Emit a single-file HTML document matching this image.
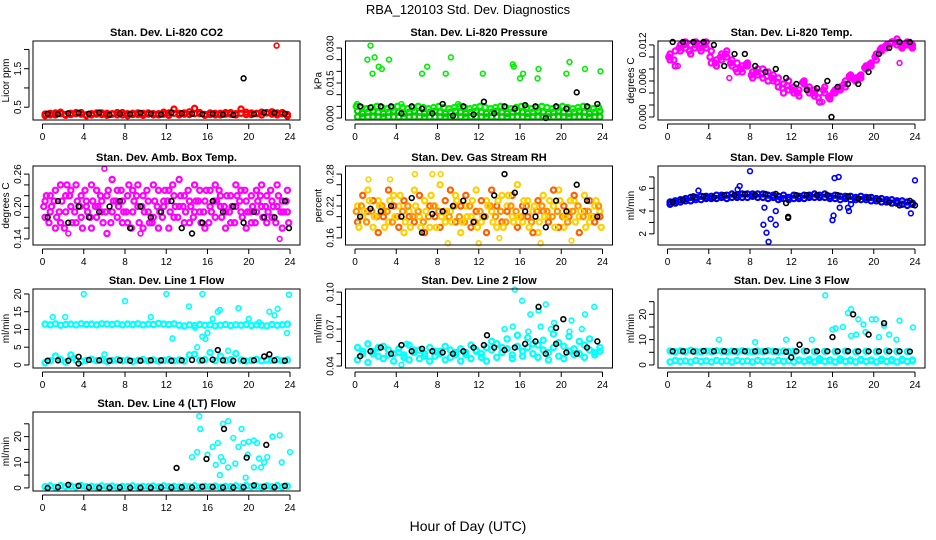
<!DOCTYPE html>
<html><head><meta charset="utf-8"><title>RBA_120103 Std. Dev. Diagnostics</title>
<style>
html,body{margin:0;padding:0;background:#fff;}
svg{display:block;font-family:"Liberation Sans",Arial,sans-serif;}
</style></head>
<body>
<svg id="chart" width="936" height="540" viewBox="0 0 936 540">
<rect x="0" y="0" width="936" height="540" fill="#fff"/>
<text x="468" y="14" text-anchor="middle" font-size="13">RBA_120103  Std. Dev. Diagnostics</text>
<text x="468" y="531" text-anchor="middle" font-size="14">Hour of Day (UTC)</text>
</svg>
<script>
// ---- data ----
const xTicks = [0,4,8,12,16,20,24];
const co2A = [0.32,0.30,0.35,0.33,0.31,0.34,0.36,0.32,0.30,0.33,0.35,0.31,0.34,0.32,0.30,0.36,0.33,0.31,0.35,0.34,0.32,0.30,0.33,0.37,0.35,0.45,0.34,0.32,0.38,0.47,0.33,0.31,0.35,0.30,0.34,0.32,0.36,0.33,0.45,0.31,0.35,0.34,0.37,0.36,0.38,0.35,0.33,0.27];
const co2B = [0.28,0.34,0.30,0.37,0.29,0.31,0.33,0.36,0.28,0.30,0.32,0.35,0.29,0.33,0.36,0.30,0.28,0.34,0.31,0.29,0.35,0.33,0.30,0.32,0.29,0.34,0.30,0.35,0.31,0.33,0.36,0.29,0.31,0.34,0.30,0.36,0.32,0.30,0.34,0.37,0.31,0.33,0.30,0.35,0.32,0.30,0.36,0.31];
const co2Out = [[22.7,2.1]];
const co2Black = [0.33,0.32,0.34,0.35,0.33,0.36,0.30,0.33,0.32,0.35,0.33,0.31,0.36,0.34,0.33,0.32,0.33,0.31,0.30,1.25,0.32,0.36,0.35,0.33];
const presA = [0.0005,0.0005,0.0005,0.0005,0.0005,0.0005,0.0005,0.0005,0.0005,0.0005,0.0005,0.0005,0.0005,0.0005,0.0005,0.0005,0.0005,0.0005,0.0005,0.0005,0.0005,0.0005,0.0005,0.0005,0.0005,0.0005,0.0005,0.0005,0.0005,0.0005,0.0005,0.0005,0.0005,0.0005,0.0005,0.0005,0.0005,0.0005,0.0005,0.0005,0.0005,0.0005,0.0005,0.0005,0.0005,0.0005,0.0005,0.0005];
const presB = [0.003,0.002,0.0025,0.003,0.0025,0.002,0.0025,0.003,0.0025,0.002,0.0025,0.003,0.0025,0.002,0.0025,0.003,0.0025,0.002,0.0025,0.003,0.0025,0.002,0.0025,0.003,0.0025,0.002,0.0025,0.003,0.0025,0.002,0.0025,0.003,0.0025,0.002,0.0025,0.003,0.0025,0.002,0.0025,0.003,0.0025,0.002,0.0025,0.003,0.0025,0.002,0.0025,0.003];
const presC = [0.005,0.0045,0.004,0.0045,0.005,0.0045,0.004,0.0045,0.005,0.0045,0.004,0.0045,0.005,0.0045,0.004,0.0045,0.005,0.0045,0.004,0.0045,0.005,0.0045,0.004,0.0045,0.005,0.0045,0.004,0.0045,0.005,0.0045,0.004,0.0045,0.005,0.0045,0.004,0.0045,0.005,0.0045,0.004,0.0045,0.005,0.0045,0.004,0.0045,0.005,0.0045,0.004,0.0045];
const presOut = [[1.2,0.025],[1.5,0.031],[1.9,0.026],[1.7,0.019],[2.3,0.022],[2.6,0.021],[3.3,0.025],[6.5,0.019],[7.0,0.022],[8.8,0.019],[9.3,0.026],[12.4,0.019],[16,0.017],[15.3,0.023],[15.4,0.022],[16.3,0.019],[17.7,0.017],[17.8,0.021],[20.5,0.019],[20.8,0.024],[22.3,0.021],[23.8,0.020],[0.2,0.006],[4.5,0.006],[10,0.006]];
const presBlack = [0.005,0.0045,0.005,0.005,0.002,0.005,0.004,0.002,0.006,0.001,0.005,0.0015,0.007,0.002,0.005,0.004,0.0055,0.005,0.0,0.005,0.004,0.011,0.005,0.006];
const tempA = [0.0105,0.011,0.012,0.0125,0.012,0.0125,0.012,0.0125,0.011,0.0095,0.0105,0.011,0.0095,0.009,0.0085,0.009,0.0075,0.008,0.008,0.0075,0.007,0.0065,0.0055,0.006,0.005,0.0045,0.006,0.005,0.0045,0.004,0.005,0.0035,0.0045,0.005,0.006,0.007,0.0065,0.007,0.0085,0.009,0.0105,0.0115,0.012,0.0125,0.013,0.012,0.0125,0.012];
const tempB = [0.0095,0.0085,0.011,0.0115,0.0105,0.012,0.011,0.0115,0.009,0.0085,0.0095,0.010,0.0085,0.0075,0.0075,0.0085,0.0065,0.0070,0.0065,0.006,0.006,0.005,0.004,0.0045,0.004,0.0035,0.0055,0.004,0.0035,0.0025,0.004,0.003,0.004,0.0045,0.005,0.0065,0.006,0.0065,0.008,0.0085,0.0095,0.011,0.0115,0.0125,0.012,0.0115,0.012,0.0115];
const tempC = [0.010,0.0095,0.0115,0.012,0.011,0.0115,0.0115,0.012,0.010,0.009,0.010,0.0105,0.009,0.008,0.008,0.0088,0.007,0.0075,0.0072,0.0068,0.0065,0.0058,0.0048,0.0052,0.0045,0.004,0.0058,0.0045,0.004,0.0032,0.0045,0.0033,0.0042,0.0048,0.0055,0.0068,0.0062,0.0068,0.0082,0.0088,0.010,0.0112,0.0118,0.0122,0.0125,0.0118,0.0122,0.0118];
const tempOut = [[6,0.0065],[15,0.0025],[22.5,0.009],[1,0.0085]];
const tempBlack = [0.0125,0.0125,0.0125,0.0125,0.012,0.0085,0.0105,0.0105,0.0085,0.0075,0.008,0.0065,0.0055,0.0045,0.0048,0.006,0.005,0.0055,0.0055,0.0075,0.0105,0.0115,0.0125,0.0125];
const tempBlackOut = [[15.9,0.0]];
const boxA = [0.21,0.19,0.23,0.17,0.22,0.20,0.24,0.18,0.21,0.16,0.23,0.19,0.22,0.25,0.18,0.21,0.17,0.23,0.20,0.22,0.19,0.24,0.16,0.21,0.23,0.18,0.20,0.22,0.17,0.24,0.19,0.21,0.23,0.18,0.20,0.16,0.22,0.24,0.19,0.21,0.17,0.23,0.20,0.22,0.18,0.24,0.21,0.19];
const boxB = [0.18,0.22,0.16,0.24,0.19,0.23,0.17,0.22,0.20,0.24,0.18,0.21,0.15,0.19,0.23,0.17,0.22,0.19,0.24,0.16,0.21,0.18,0.23,0.20,0.16,0.22,0.25,0.17,0.21,0.19,0.23,0.16,0.20,0.24,0.22,0.19,0.17,0.20,0.23,0.16,0.22,0.19,0.24,0.17,0.21,0.20,0.16,0.23];
const boxC = [0.20,0.17,0.21,0.19,0.16,0.22,0.19,0.20,0.23,0.18,0.20,0.22,0.19,0.17,0.21,0.23,0.19,0.16,0.22,0.20,0.23,0.17,0.20,0.18,0.21,0.24,0.18,0.20,0.23,0.18,0.21,0.19,0.17,0.21,0.23,0.20,0.19,0.17,0.21,0.23,0.19,0.17,0.22,0.20,0.23,0.17,0.19,0.21];
const boxD = [0.22,0.20,0.18,0.21,0.24,0.17,0.21,0.16,0.19,0.21,0.20,0.17,0.23,0.21,0.20,0.19,0.24,0.21,0.17,0.19,0.17,0.21,0.19,0.23,0.19,0.20,0.22,0.19,0.20,0.21,0.17,0.23,0.19,0.21,0.18,0.22,0.20,0.22,0.18,0.19,0.20,0.21,0.18,0.19,0.20,0.22,0.19,0.17];
const boxOut = [[6,0.27],[23,0.14],[9.5,0.15],[2.5,0.15]];
const boxBlack = [0.18,0.21,0.17,0.20,0.18,0.19,0.20,0.21,0.16,0.20,0.18,0.19,0.21,0.16,0.15,0.17,0.21,0.19,0.20,0.17,0.19,0.18,0.18,0.21];
const boxBlackOut = [[23.9,0.16]];
const rhA = [0.22,0.20,0.25,0.18,0.23,0.21,0.19,0.24,0.22,0.17,0.21,0.25,0.20,0.23,0.18,0.22,0.26,0.19,0.21,0.24,0.17,0.22,0.20,0.25,0.19,0.23,0.21,0.18,0.24,0.22,0.20,0.26,0.19,0.23,0.21,0.17,0.24,0.20,0.22,0.25,0.18,0.21,0.23,0.20,0.24,0.19,0.22,0.21];
const rhB = [0.19,0.24,0.21,0.23,0.17,0.20,0.25,0.22,0.18,0.23,0.20,0.19,0.24,0.17,0.22,0.20,0.18,0.23,0.25,0.19,0.22,0.24,0.18,0.21,0.23,0.17,0.25,0.22,0.19,0.21,0.24,0.18,0.22,0.20,0.17,0.23,0.21,0.19,0.25,0.18,0.22,0.20,0.24,0.17,0.21,0.23,0.19,0.20];
const rhC = [0.21,0.22,0.19,0.21,0.20,0.22,0.21,0.19,0.20,0.21,0.22,0.20,0.21,0.19,0.20,0.22,0.21,0.21,0.20,0.22,0.20,0.19,0.22,0.19,0.21,0.20,0.22,0.20,0.21,0.19,0.22,0.21,0.20,0.22,0.19,0.21,0.22,0.21,0.20,0.21,0.20,0.19,0.21,0.22,0.20,0.21,0.20,0.22];
const rhD = [0.18,0.21,0.23,0.20,0.22,0.18,0.23,0.20,0.24,0.19,0.18,0.22,0.18,0.21,0.24,0.18,0.20,0.21,0.19,0.23,0.19,0.20,0.23,0.18,0.20,0.22,0.19,0.23,0.18,0.24,0.19,0.20,0.23,0.18,0.22,0.19,0.20,0.23,0.18,0.23,0.20,0.23,0.19,0.21,0.18,0.20,0.23,0.18];
const rhOut = [[5.8,0.28],[7.5,0.28],[8.3,0.28],[3.4,0.27],[9,0.15],[12,0.15],[14,0.16],[18,0.15],[21,0.155],[1.3,0.27]];
const rhBlack = [0.20,0.215,0.21,0.22,0.20,0.235,0.17,0.205,0.21,0.22,0.23,0.19,0.20,0.24,0.28,0.245,0.21,0.20,0.18,0.23,0.21,0.26,0.23,0.20];
const flowA = [4.8,4.9,5.0,5.1,5.2,5.2,5.3,5.3,5.3,5.4,5.4,5.4,5.5,5.4,5.5,5.5,5.5,5.5,5.5,5.4,5.4,5.3,5.4,5.2,5.4,5.3,5.4,5.4,5.5,5.4,5.5,5.3,5.4,5.3,5.3,5.3,5.2,5.3,5.2,5.2,5.1,5.1,5.0,5.0,4.9,4.9,4.8,4.7];
const flowB = [4.6,4.7,4.8,4.9,4.9,5.0,5.0,5.1,5.1,5.1,5.2,5.1,5.2,5.2,5.2,5.2,5.3,5.2,5.2,5.1,5.2,5.0,5.1,5.0,5.1,5.1,5.1,5.2,5.2,5.2,5.2,5.1,5.1,5.0,5.1,5.0,5.0,5.0,5.0,4.9,4.9,4.8,4.8,4.7,4.7,4.6,4.5,4.6];
const flowOut = [[8,7.5],[7,6.2],[9.3,2.8],[9.4,4.3],[9.6,2.1],[9.8,1.3],[10,3.3],[10.5,4.0],[10.5,2.8],[16.2,6.9],[16.6,7],[16,3.2],[16.1,3.6],[16.7,4.3],[17.5,4.3],[17.6,4.0],[17.8,4.6],[23.6,3.8],[24,6.7],[11,5.1],[3,5.8],[6.8,5.9]];
const flowBlack = [4.8,5.0,5.3,5.3,5.2,5.4,5.4,5.5,5.4,5.5,5.5,4.7,5.4,5.4,5.4,5.4,5.4,5.3,5.1,5.2,5.0,4.8,4.5,4.9];
const flowBlackOut = [[11.7,3.4],[11.7,3.5],[24,4.5]];
const l1A = [11.5,11.3,11.6,11.2,11.4,11.5,11.3,11.6,11.4,11.5,11.3,11.6,11.5,11.4,11.6,11.3,11.5,11.4,11.6,11.3,11.5,11.4,11.7,11.5,11.4,11.6,11.2,11.0,11.3,11.1,11.4,11.2,11.3,11.0,11.2,11.4,11.1,11.3,11.2,11.4,11.1,11.3,11.2,11.0,11.4,11.2,11.3,11.5];
const l1B = [0.6,1.2,2.5,1.5,0.8,2.8,1.4,1.0,1.3,1.6,1.2,1.4,1.0,1.3,1.5,1.2,1.4,1.0,1.3,1.5,1.2,1.4,1.1,1.3,1.5,1.2,1.4,1.1,2.8,3.0,1.3,1.5,3.5,1.2,2.5,1.3,1.5,3.2,1.4,1.1,1.3,1.6,1.2,1.4,1.3,1.5,1.2,1.4];
const l1Out = [[4,20],[8,18],[12,20],[15.5,20],[2.2,13.5],[1,13.5],[14.2,16.5],[15,5],[15.8,7.3],[16,9],[16.5,13],[17.2,15.5],[17,15],[18,4],[19,16],[20,13],[21,12],[22,15],[22.5,14],[22.8,15.8],[23.7,9],[23.9,19.8],[14.8,10.5],[10.5,13.5],[12.6,7.5],[15.5,8],[6,3],[3,2]];
const l1Black = [1.2,1.3,1.2,2.3,1.4,1.3,1.2,1.3,1.2,1.2,1.3,1.3,1.2,1.3,1.4,1.3,1.5,1.3,1.2,1.2,1.3,2.4,1.3,1.2];
const l1BlackOut = [[17,4.2],[22,3],[3.5,0.4]];
const l2A = [0.055,0.050,0.058,0.052,0.048,0.056,0.053,0.050,0.054,0.049,0.057,0.051,0.053,0.048,0.055,0.052,0.050,0.056,0.053,0.049,0.054,0.051,0.057,0.052,0.050,0.055,0.053,0.058,0.051,0.054,0.049,0.056,0.052,0.055,0.050,0.057,0.053,0.051,0.055,0.048,0.056,0.052,0.054,0.050,0.057,0.053,0.051,0.055];
const l2B = [0.045,0.052,0.043,0.050,0.055,0.046,0.049,0.044,0.051,0.047,0.045,0.053,0.046,0.050,0.044,0.048,0.052,0.045,0.047,0.051,0.044,0.049,0.046,0.053,0.047,0.044,0.060,0.047,0.055,0.062,0.046,0.065,0.048,0.063,0.058,0.047,0.061,0.045,0.066,0.059,0.046,0.064,0.049,0.060,0.047,0.062,0.049,0.052];
const l2Out = [[15.5,0.102],[16.2,0.093],[17,0.082],[17.8,0.085],[18.5,0.09],[19.3,0.075],[21,0.077],[22.3,0.082],[23.2,0.088],[15.3,0.072],[14.5,0.07],[19,0.07],[16.8,0.068],[20.8,0.068],[18,0.072],[22,0.07],[5,0.058],[4.5,0.041]];
const l2Black = [0.048,0.052,0.055,0.050,0.057,0.052,0.054,0.052,0.051,0.050,0.052,0.055,0.057,0.055,0.053,0.055,0.058,0.060,0.050,0.058,0.051,0.050,0.055,0.060];
const l2BlackOut = [[17.8,0.088],[20.2,0.078],[19.5,0.071],[12.8,0.065]];
const l3A = [1.2,1.8,1.4,1.6,1.2,1.8,1.4,1.6,1.2,1.8,1.4,1.6,1.2,1.8,1.4,1.6,1.2,1.8,1.4,1.6,1.2,1.8,1.4,1.6,1.2,1.8,1.4,1.6,1.2,1.8,1.4,1.6,1.2,1.8,1.4,1.6,1.2,1.8,1.4,1.6,1.2,1.8,1.4,1.6,1.2,1.8,1.4,1.6];
const l3B = [5.5,5.2,5.6,5.3,5.8,5.4,5.2,5.5,5.3,5.6,5.4,5.2,5.5,5.3,5.6,5.4,5.2,5.5,5.3,5.6,5.4,5.2,5.5,5.3,5.4,2.0,5.5,2.2,5.3,2.5,5.4,2.0,5.3,2.4,5.5,2.0,5.2,2.2,5.4,2.0,5.3,2.3,5.5,2.1,5.4,2.2,5.3,2.0];
const l3Out = [[15.3,27.5],[17.8,22],[17.5,20.5],[18.5,18],[19,16],[19.8,18],[20.2,18],[21,15.5],[22.5,17.5],[23.8,14.8],[16,14],[16.3,14.5],[17,15],[5,10],[11.5,10],[14,10],[17.8,11.5],[18.3,12],[19.2,13],[20.5,11],[21.5,12],[22.2,10],[8.5,9]];
const l3Black = [5.4,5.4,5.3,5.5,5.4,5.4,5.4,5.4,5.4,5.4,5.4,5.2,5.4,5.5,5.4,5.4,5.4,5.4,5.4,5.4,5.4,5.4,5.4,5.3];
const l3BlackOut = [[18,20],[16,11],[19.5,12],[21,16.5],[12,3],[12.8,8],[17.5,5.5]];
const l4A = [0.5,0.8,0.3,0.9,0.5,0.7,0.4,0.9,0.5,0.6,0.4,0.8,0.5,0.7,0.3,0.6,0.5,0.8,0.4,0.6,0.5,0.7,0.4,0.8,0.5,0.6,0.4,0.7,0.5,0.8,0.4,0.6,0.5,0.7,0.3,0.6,0.5,0.8,0.4,0.9,0.5,0.7,0.4,0.8,0.5,0.9,0.4,0.7];
const l4Out = [[15.2,28],[15.3,23],[17.5,25],[18,26],[19.3,23],[14.5,12],[15,14],[16,13],[16.5,16],[17,17.5],[17.3,12],[17.5,10.5],[18,8],[18.5,19.5],[19,16],[19.5,17.5],[20,18],[20.5,18.5],[20.8,17.5],[21,11.5],[21.5,10],[21.8,12],[22.3,20],[23,20.5],[23.2,10],[24,14],[17.2,5],[19.7,4],[20.5,8],[21.2,8],[16.8,9],[18.7,9.5],[19.9,13]];
const l4Black = [0.0,0.3,1.2,0.8,0.2,0.1,0.1,0.2,0.1,0.1,0.1,0.2,0.2,0.3,0.2,0.5,0.4,0.2,0.2,0.3,1.0,0.5,0.3,0.8];
const l4BlackOut = [[13,7.8],[15.9,11.3],[17.6,23],[19.8,11.8],[21.7,16.8]];

const NS = "http://www.w3.org/2000/svg";
const svg = document.getElementById('chart');
function el(tag, attrs, parent){ const e=document.createElementNS(NS,tag); for(const k in attrs) e.setAttribute(k,attrs[k]); (parent||svg).appendChild(e); return e; }

const colX = [33, 345.5, 658];
const rowY = [41, 166, 289, 412];
const W = 267, H = 79;

const panels = [
 {id:'co2',title:'Stan. Dev. Li-820 CO2',ylab:'Licor ppm',c:0,r:0,ymin:0.167,ymax:2.22,ticks:[0.5,1,1.5,2],labels:['0.5','','1.5',''],series:[[co2A,'#ff0000'],[co2B,'#ff0000']],out:[[co2Out,'#ff0000']],black:co2Black,bout:[]},
 {id:'pressure',title:'Stan. Dev. Li-820 Pressure',ylab:'kPa',c:1,r:0,ymin:-0.00085,ymax:0.033,ticks:[0,0.005,0.01,0.015,0.02,0.025,0.03],labels:['0.000','','','0.015','','','0.030'],series:[[presA,'#00cc00'],[presB,'#00cc00'],[presC,'#00ee00']],out:[[presOut,'#00ee00']],black:presBlack,bout:[]},
 {id:'temp',title:'Stan. Dev. Li-820 Temp.',ylab:'degrees C',c:2,r:0,ymin:-0.0005,ymax:0.01266,ticks:[0,0.002,0.004,0.006,0.008,0.01,0.012],labels:['0.000','','','0.006','','','0.012'],series:[[tempA,'#ff00ff'],[tempB,'#ff00ff'],[tempC,'#ff00ff']],out:[[tempOut,'#ff00ff']],black:tempBlack,bout:tempBlackOut},
 {id:'box-temp',title:'Stan. Dev. Amb. Box Temp.',ylab:'degrees C',c:0,r:1,ymin:0.1287,ymax:0.275,ticks:[0.14,0.16,0.18,0.2,0.22,0.24,0.26],labels:['0.14','','','0.20','','','0.26'],series:[[boxA,'#ff00ff'],[boxB,'#ff00ff'],[boxC,'#ff00ff'],[boxD,'#ff00ff']],out:[[boxOut,'#ff00ff']],black:boxBlack,bout:boxBlackOut},
 {id:'rh',title:'Stan. Dev. Gas Stream RH',ylab:'percent',c:1,r:1,ymin:0.1467,ymax:0.2952,ticks:[0.16,0.18,0.2,0.22,0.24,0.26,0.28],labels:['0.16','','','0.22','','','0.28'],series:[[rhA,'#ffd000'],[rhB,'#ff6000'],[rhC,'#ff9000'],[rhD,'#ffd000']],out:[[rhOut,'#ffd000']],black:rhBlack,bout:[]},
 {id:'sample-flow',title:'Stan. Dev. Sample Flow',ylab:'ml/min',c:2,r:1,ymin:1.02,ymax:7.96,ticks:[2,3,4,5,6,7],labels:['2','','4','','6',''],series:[[flowA,'#0000ff'],[flowB,'#0000ee']],out:[[flowOut,'#0000ff']],black:flowBlack,bout:flowBlackOut},
 {id:'line1-flow',title:'Stan. Dev. Line 1 Flow',ylab:'ml/min',c:0,r:2,ymin:-0.86,ymax:21.4,ticks:[0,5,10,15,20],labels:['0','5','10','15','20'],series:[[l1A,'#00ffff'],[l1B,'#00ffff']],out:[[l1Out,'#00ffff']],black:l1Black,bout:l1BlackOut},
 {id:'line2-flow',title:'Stan. Dev. Line 2 Flow',ylab:'ml/min',c:1,r:2,ymin:0.0384,ymax:0.1025,ticks:[0.04,0.05,0.06,0.07,0.08,0.09,0.1],labels:['0.04','','','0.07','','','0.10'],series:[[l2A,'#00ffff'],[l2B,'#00ffff']],out:[[l2Out,'#00ffff']],black:l2Black,bout:l2BlackOut},
 {id:'line3-flow',title:'Stan. Dev. Line 3 Flow',ylab:'ml/min',c:2,r:2,ymin:-1.2,ymax:30,ticks:[0,5,10,15,20,25],labels:['0','','10','','20',''],series:[[l3A,'#00ffff'],[l3B,'#00ffff']],out:[[l3Out,'#00ffff']],black:l3Black,bout:l3BlackOut},
 {id:'line4-flow',title:'Stan. Dev. Line 4 (LT) Flow',ylab:'ml/min',c:0,r:3,ymin:-1.2,ymax:29.6,ticks:[0,5,10,15,20,25],labels:['0','','10','','20',''],series:[[l4A,'#00ffff']],out:[[l4Out,'#00ffff']],black:l4Black,bout:l4BlackOut}
];

panels.forEach(p=>{
  const x0=colX[p.c], y0=rowY[p.r];
  const g=el('g',{});
  
  
  const xs = h => x0 + 9.5 + h/24*(W-19.5);
  const ys = v => y0 + H - (v-p.ymin)/(p.ymax-p.ymin)*H;
  p.series.forEach((s,si)=>{
    const off = [0.25,0.0,0.125,0.375][si] || 0.25;
    s[0].forEach((v,i)=>{
      const c=el('circle',{cx:xs(off+0.5*i),cy:ys(v),r:2.6,fill:'none',stroke:s[1],'stroke-width':2.2},g);
      
      
    });
  });
  p.out.forEach(s=>{
    s[0].forEach(pt=>{
      const c=el('circle',{cx:xs(pt[0]),cy:ys(pt[1]),r:2.4,fill:'none',stroke:s[1],'stroke-width':1.6},g);
      
      
    });
  });
  p.black.forEach((v,i)=>{
    const c=el('circle',{cx:xs(0.5+i),cy:ys(v),r:2.4,fill:'none',stroke:'#000','stroke-width':1.6},g);
    
    
  });
  p.bout.forEach(pt=>{
    const c=el('circle',{cx:xs(pt[0]),cy:ys(pt[1]),r:2.4,fill:'none',stroke:'#000','stroke-width':1.6},g);
    
    
  });
  const fr=el('rect',{x:x0,y:y0,width:W,height:H,fill:'none',stroke:'#000','stroke-width':1},g);
  
  
  const t=el('text',{x:x0+W/2,y:y0-5,'text-anchor':'middle','font-size':11,'font-weight':'bold'},g);
  t.textContent=p.title;
  
  
  const xa=el('line',{x1:xs(0),x2:xs(24),y1:y0+H+4,y2:y0+H+4,stroke:'#000'},g);
  
  
  xTicks.forEach(tk=>{
    el('line',{x1:xs(tk),x2:xs(tk),y1:y0+H+4,y2:y0+H+9,stroke:'#000'},g);
    const tl=el('text',{x:xs(tk),y:y0+H+20,'text-anchor':'middle','font-size':10},g);
    tl.textContent=tk;
    
    
  });
  const ya=el('line',{x1:x0-4,x2:x0-4,y1:ys(p.ticks[0]),y2:ys(p.ticks[p.ticks.length-1]),stroke:'#000'},g);
  
  
  p.ticks.forEach((tk,i)=>{
    el('line',{x1:x0-9,x2:x0-4,y1:ys(tk),y2:ys(tk),stroke:'#000'},g);
    if(p.labels[i]){
      const yl=el('text',{x:x0-12,y:ys(tk),'text-anchor':'middle','font-size':10,transform:`rotate(-90 ${x0-12} ${ys(tk)})`},g);
      yl.textContent=p.labels[i];
      
      
    }
  });
  const yt=el('text',{x:x0-24,y:y0+H/2,'text-anchor':'middle','font-size':10,transform:`rotate(-90 ${x0-24} ${y0+H/2})`},g);
  yt.textContent=p.ylab;
  
  
});
</script>
</body></html>
